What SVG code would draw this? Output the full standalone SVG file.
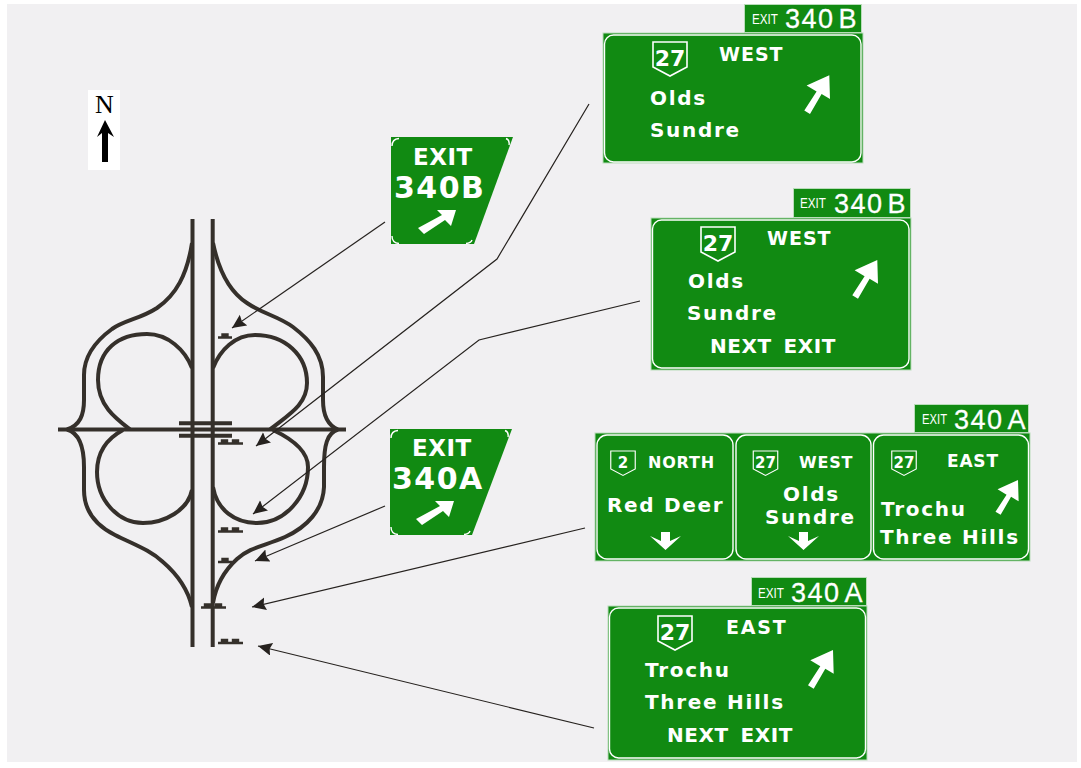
<svg xmlns="http://www.w3.org/2000/svg" width="1081" height="768" viewBox="0 0 1081 768">
<defs>
<marker id="ah" markerUnits="userSpaceOnUse" markerWidth="16" markerHeight="14" refX="14" refY="6.500" orient="auto"><path d="M0,0L14,6.500L0,13L2,6.500Z" fill="#26221f"/></marker>
<g id="s1"><path d="M0,0H14M4.500,0V-3H9.500V0" class="sg"/></g>
<g id="s2"><path d="M0,0H25M4,0V-3H9V0M15,0V-3H20V0" class="sg"/></g>
<path id="up" d="M0,0L-22.700,10.300L-12.700,16.300L-25,35.300L-19.300,38.700L-7.700,18.700L.7,23.700Z" fill="#fff"/>
<path id="down" d="M0,0L-15.500,-14L-4.500,-9V-18H4.500V-9L15.500,-14Z" fill="#fff"/>
<path id="shield" d="M-17,-16H17V9L0,18L-17,9Z" fill="none" stroke="#fff" stroke-width="1.600"/>
</defs>
<style>
.road{fill:none;stroke:#35302b;stroke-width:4}
.sg{fill:#35302b;stroke:#35302b;stroke-width:2.400}
.ln{fill:none;stroke:#26221f;stroke-width:1.200;marker-end:url(#ah)}
.pl{fill:#118a12;stroke:#b9dcb9;stroke-width:1}
.in{fill:none;stroke:#fff;stroke-width:1.400}
text{fill:#fff;font-family:"DejaVu Sans",sans-serif;font-weight:700}
.r{font-size:20px;letter-spacing:1.700px}
.h{font-size:19px;letter-spacing:1px}
.s{font-size:16px;letter-spacing:.8px}
.nx{font-size:20px;letter-spacing:.6px;word-spacing:4px}
.ex{font-family:"Liberation Sans",sans-serif;font-weight:400;font-size:15px}
.nu{font-family:"Liberation Sans",sans-serif;font-weight:400;font-size:27px;letter-spacing:1.500px;stroke:#fff;stroke-width:.3px}
.sh{font-size:22px;text-anchor:middle}
.ss{font-size:15px;text-anchor:middle}
.e1{font-size:23px;letter-spacing:.5px}
.e2{font-size:30px;letter-spacing:1.500px}
</style>
<rect width="1081" height="768" fill="#fff"/>
<rect x="7" y="4" width="1070" height="758" fill="#f1f0f2"/>
<g id="north"><rect x="88" y="90" width="32" height="80" fill="#fff"/><text x="104.500" y="113" text-anchor="middle" style="fill:#000;font-family:'Liberation Serif',serif;font-size:26px;font-weight:400">N</text><path d="M105,120L114,137L108,133V162H102V133L97,137Z" fill="#000"/></g>
<g id="interchange">
<path class="road" d="M192.500,219V647M212.700,219V647M58,429.500H346"/>
<path class="road" d="M179,423.300H232M179,435.700H232"/>
<path class="road" d="M192,243C187,275 176,295 157,308C140,319 125,320 112,329C97,340 84,355 84,375V400C84,415 80,425 67,429.500"/>
<path class="road" d="M213,243C219,272 230,292 247,303C263,314 278,316 293,327C310,340 323,355 323,377V400C323,415 327,425 338,429.500"/>
<path class="road" d="M67,429.500C79,433 84,445 84,467V490C84,510 95,525 115,535C135,545 150,550 163,562C178,575 188,590 192,607"/>
<path class="road" d="M338,429.500C327,433 324,445 324,467V487C323,510 307,527 285,537C265,546 250,547 237,559C225,570 216,585 213,603"/>
<path class="road" d="M192,368C185,350 168,334 147,334C118,334 98,350 98,380C98,405 115,418 130,429.500"/>
<path class="road" d="M213,368C220,350 235,335 255,335C285,335 307,355 307,383C307,405 288,415 270,429.500"/>
<path class="road" d="M123,430C108,438 97,450 97,472C97,500 118,523 143,523C165,523 188,510 192,490"/>
<path class="road" d="M273,430C290,438 308,450 308,467C308,497 285,523 257,523C235,523 217,510 213,487"/>
<use href="#s1" x="218" y="337.500"/><use href="#s2" x="218" y="443.500"/><use href="#s2" x="218" y="531.500"/><use href="#s1" x="218" y="562"/><use href="#s2" x="201" y="607.500"/><use href="#s2" x="218" y="643"/>
</g>
<g id="connectors">
<path class="ln" d="M385,222L232,328"/>
<path class="ln" d="M589,104L497,259L256,446"/>
<path class="ln" d="M640,301L479,340L253,514"/>
<path class="ln" d="M385,506L255,561"/>
<path class="ln" d="M585,528L252,607"/>
<path class="ln" d="M594,728L258,646"/>
</g>
<g id="exit340b"><path d="M391,137H513L474,244H391Z" fill="#118a12"/><path class="in" d="M392,146Q392,139 399,138.500M506,138.500Q510,140 509,145M392,236Q392,243 399,243.500M466,243.500Q471,243 472,240"/>
<text class="e1" x="413" y="165">EXIT</text><text class="e2" x="394" y="198">340B</text>
<path d="M418,228L424,234L445,220L451,226L456,210L437,210L442,215Z" fill="#fff"/></g>
<g id="exit340a"><path d="M390,429H512L472,535H390Z" fill="#118a12"/><path class="in" d="M391,438Q391,431 398,430.500M505,430.500Q509,432 508,437M391,527Q391,534 398,534.500M464,534.500Q469,534 470,531"/>
<text class="e1" x="412" y="456">EXIT</text><text class="e2" x="392" y="489">340A</text>
<path d="M416,519L422,525L443,511L449,517L454,501L435,501L440,506Z" fill="#fff"/></g>
<g id="sign-b1"><rect class="pl" x="744.500" y="4.500" width="117" height="28"/><text class="ex" x="752" y="24" textLength="26" lengthAdjust="spacingAndGlyphs">EXIT</text><text class="nu" x="785" y="28">340<tspan dx="4">B</tspan></text>
<rect class="pl" x="603" y="33" width="260" height="130"/><rect class="in" x="604.500" y="35" width="256.500" height="127" rx="9"/>
<use href="#shield" x="670" y="58"/><text class="sh" x="670" y="66">27</text><text class="h" x="719" y="61">WEST</text><text class="r" x="650" y="105">Olds</text><text class="r" x="650" y="137">Sundre</text><use href="#up" x="829.300" y="75.300"/></g>
<g id="sign-b2"><rect class="pl" x="793.500" y="188.500" width="117" height="29"/><text class="ex" x="800" y="208" textLength="26" lengthAdjust="spacingAndGlyphs">EXIT</text><text class="nu" x="834" y="213">340<tspan dx="4">B</tspan></text>
<rect class="pl" x="651" y="218" width="260" height="152"/><rect class="in" x="652.500" y="220" width="256.500" height="148" rx="9"/>
<use href="#shield" x="718" y="243"/><text class="sh" x="718" y="251">27</text><text class="h" x="767" y="245">WEST</text><text class="r" x="688" y="288">Olds</text><text class="r" x="687" y="320">Sundre</text><text class="nx" x="710" y="353">NEXT EXIT</text><use href="#up" x="877.300" y="260"/></g>
<g id="sign-a1"><rect class="pl" x="914.500" y="404.500" width="114" height="28"/><text class="ex" x="922" y="424" textLength="25" lengthAdjust="spacingAndGlyphs">EXIT</text><text class="nu" x="954" y="429">340<tspan dx="4">A</tspan></text>
<rect class="pl" x="595" y="433" width="435" height="128"/>
<rect class="in" x="597" y="435" width="136" height="124" rx="10"/><rect class="in" x="736" y="435" width="135" height="124" rx="10"/><rect class="in" x="873.500" y="435" width="155" height="124" rx="10"/>
<use href="#shield" transform="translate(623,462.500) scale(.72)"/><text class="ss" x="623" y="468">2</text><text class="s" x="648" y="468">NORTH</text><text class="r" x="607" y="512">Red Deer</text><use href="#down" x="665.500" y="550"/>
<use href="#shield" transform="translate(765.500,462.500) scale(.72)"/><text class="ss" x="765.500" y="468">27</text><text class="s" x="799" y="468">WEST</text><text class="r" x="783" y="501">Olds</text><text class="r" x="765" y="524">Sundre</text><use href="#down" x="803.500" y="550"/>
<use href="#shield" transform="translate(904,462.500) scale(.72)"/><text class="ss" x="904" y="468">27</text><text class="s" x="947" y="467" style="font-size:17px">EAST</text><text class="r" x="881" y="516">Trochu</text><text class="r" x="880" y="544">Three Hills</text><use href="#up" transform="translate(1018,480) scale(.9)"/></g>
<g id="sign-a2"><rect class="pl" x="751.500" y="577.500" width="115" height="28"/><text class="ex" x="758" y="598" textLength="26" lengthAdjust="spacingAndGlyphs">EXIT</text><text class="nu" x="791" y="602">340<tspan dx="4">A</tspan></text>
<rect class="pl" x="608" y="606" width="259" height="154"/><rect class="in" x="609.500" y="608" width="256" height="150" rx="9"/>
<use href="#shield" x="675" y="632"/><text class="sh" x="675" y="640">27</text><text class="h" x="726" y="634" style="letter-spacing:1.800px">EAST</text><text class="r" x="645" y="677">Trochu</text><text class="r" x="645" y="709">Three Hills</text><text class="nx" x="667" y="742">NEXT EXIT</text><use href="#up" x="833" y="650"/></g>
</svg>
